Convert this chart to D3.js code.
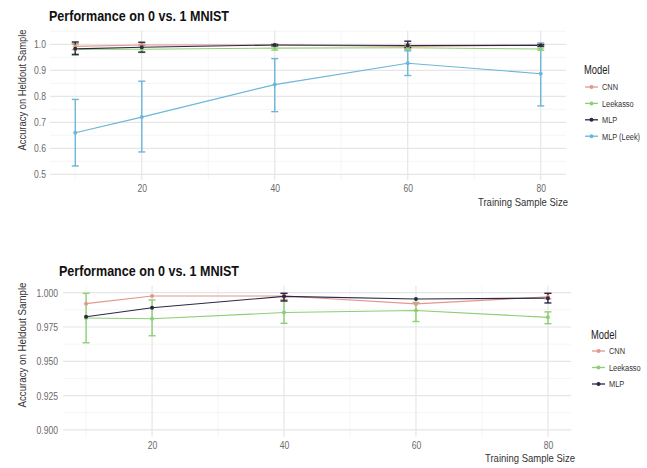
<!DOCTYPE html>
<html>
<head>
<meta charset="utf-8">
<script src="https://cdn.jsdelivr.net/npm/d3@7"></script>
<style>
  html, body { margin: 0; padding: 0; background: #ffffff; }
  svg { display: block; font-family: "Liberation Sans", Arial, sans-serif; }
</style>
</head>
<body>
<svg id="chart" width="647" height="468"></svg>
<script>
// ---------------- data ----------------
const sizes = [10, 20, 40, 60, 80];
const models = ["CNN", "Leekasso", "MLP", "MLP (Leek)"];
const colors = ["#e3968a", "#8ccf74", "#2b2745", "#6cb6d8"];

const cnnMean = [0.9920, 0.9976, 0.9976, 0.9918, 0.9970];
const cnnLow  = [0.9800, 0.9950, 0.9950, 0.9840, 0.9955];
const cnnHigh = [1.0040, 1.0005, 0.9995, 1.0020, 0.9995];

const leekassoMean = [0.9815, 0.9810, 0.9855, 0.9870, 0.9820];
const leekassoLow  = [0.9635, 0.9686, 0.9777, 0.9790, 0.9774];
const leekassoHigh = [0.9995, 0.9947, 0.9937, 0.9929, 0.9860];

const mlpMean = [0.9825, 0.9890, 0.9973, 0.9954, 0.9960];
const mlpLow  = [0.9600, 0.9700, 0.9940, 0.9880, 0.9925];
const mlpHigh = [1.0090, 1.0080, 0.9995, 1.0120, 0.9995];

const mlpLeekMean = [0.660, 0.720, 0.845, 0.927, 0.887];
const mlpLeekLow  = [0.532, 0.586, 0.741, 0.880, 0.763];
const mlpLeekHigh = [0.788, 0.858, 0.945, 0.975, 1.005];

const topYTicks = [0.5, 0.6, 0.7, 0.8, 0.9, 1.0];
const bottomYTicks = [0.900, 0.925, 0.950, 0.975, 1.000];
const xTicks = [20, 40, 60, 80];

const titleText = "Performance on 0 vs. 1 MNIST";
const yTitleText = "Accuracy on Heldout Sample";
const xTitleText = "Training Sample Size";
const legendTitle = "Model";

// ---------------- build series ----------------
const allSeries = [
  {name: models[0], color: colors[0], mean: cnnMean, low: cnnLow, high: cnnHigh},
  {name: models[1], color: colors[1], mean: leekassoMean, low: leekassoLow, high: leekassoHigh},
  {name: models[2], color: colors[2], mean: mlpMean, low: mlpLow, high: mlpHigh},
  {name: models[3], color: colors[3], mean: mlpLeekMean, low: mlpLeekLow, high: mlpLeekHigh}
].map(s => ({...s, pts: sizes.map((x, i) => ({x, y: s.mean[i], lo: s.low[i], hi: s.high[i]}))}));

const svg = d3.select("#chart");
const SQ = 0.78; // horizontal text squeeze seen in the reference

function drawPanel(cfg) {
  const g = svg.append("g");
  const x = d3.scaleLinear().domain(cfg.xDomain).range(cfg.xRange);
  const y = d3.scaleLinear().domain(cfg.yDomain).range(cfg.yRange);
  const [x0, x1] = cfg.xRange;
  const [y1, y0] = cfg.yRange; // y1 bottom, y0 top

  // minor grid
  const yMinor = [];
  const step = cfg.yTicks[1] - cfg.yTicks[0];
  for (let i = 0; i < cfg.yTicks.length + 1; i++) {
    const v = cfg.yTicks[0] - step / 2 + i * step;
    if (v >= cfg.yDomain[0] && v <= cfg.yDomain[1]) yMinor.push(v);
  }
  const xMinor = [10, 30, 50, 70];
  g.selectAll(".ymin").data(yMinor).join("line")
    .attr("x1", x0).attr("x2", x1).attr("y1", d => y(d)).attr("y2", d => y(d))
    .attr("stroke", "#f1f1f1").attr("stroke-width", 0.7);
  g.selectAll(".xmin").data(xMinor).join("line")
    .attr("y1", y0).attr("y2", y1).attr("x1", d => x(d)).attr("x2", d => x(d))
    .attr("stroke", "#f1f1f1").attr("stroke-width", 0.7);
  // major grid
  g.selectAll(".ymaj").data(cfg.yTicks).join("line")
    .attr("x1", x0).attr("x2", x1).attr("y1", d => y(d)).attr("y2", d => y(d))
    .attr("stroke", "#e6e6e6").attr("stroke-width", 1.2);
  g.selectAll(".xmaj").data(xTicks).join("line")
    .attr("y1", y0).attr("y2", y1).attr("x1", d => x(d)).attr("x2", d => x(d))
    .attr("stroke", "#e6e6e6").attr("stroke-width", 1.2);

  // axes (labels only)
  const ya = g.append("g").attr("transform", `translate(${x0},0)`)
    .call(d3.axisLeft(y).tickValues(cfg.yTicks).tickFormat(d3.format(cfg.yFormat)).tickSize(0).tickPadding(cfg.yPad));
  ya.select(".domain").remove();
  ya.selectAll("text").attr("font-size", 11).attr("fill", "#6a6a6a").attr("font-family", "Liberation Sans, Arial, sans-serif").classed("sq", true);
  const xa = g.append("g").attr("transform", `translate(0,${cfg.xAxisY})`)
    .call(d3.axisBottom(x).tickValues(xTicks).tickSize(0).tickPadding(0));
  xa.select(".domain").remove();
  xa.selectAll("text").attr("font-size", 11).attr("fill", "#6a6a6a").attr("font-family", "Liberation Sans, Arial, sans-serif").classed("sq", true);

  const series = allSeries.filter(s => cfg.models.includes(s.name));
  const inRange = d => d.lo >= cfg.clip[0] && d.hi <= cfg.clip[1];
  const line = d3.line().x(d => x(d.x)).y(d => y(d.y));

  series.forEach(s => {
    g.append("path").datum(s.pts).attr("d", line)
      .attr("fill", "none").attr("stroke", s.color).attr("stroke-width", 1.1);
  });
  series.forEach(s => {
    const eb = g.append("g").attr("stroke", s.color).attr("stroke-width", 1.4).attr("fill", "none");
    const pts = s.pts.filter(inRange);
    eb.selectAll(".v").data(pts).join("line")
      .attr("x1", d => x(d.x)).attr("x2", d => x(d.x)).attr("y1", d => y(d.lo)).attr("y2", d => y(d.hi));
    eb.selectAll(".lo").data(pts).join("line")
      .attr("x1", d => x(d.x) - 3.5).attr("x2", d => x(d.x) + 3.5).attr("y1", d => y(d.lo)).attr("y2", d => y(d.lo));
    eb.selectAll(".hi").data(pts).join("line")
      .attr("x1", d => x(d.x) - 3.5).attr("x2", d => x(d.x) + 3.5).attr("y1", d => y(d.hi)).attr("y2", d => y(d.hi));
  });
  series.forEach(s => {
    g.selectAll(null).data(s.pts).join("circle")
      .attr("cx", d => x(d.x)).attr("cy", d => y(d.y)).attr("r", 2).attr("fill", s.color);
  });

  // titles
  g.append("text").attr("x", cfg.titleX).attr("y", cfg.titleY)
    .attr("font-size", 15).attr("font-weight", "bold").attr("fill", "#111")
    .attr("textLength", 180).attr("lengthAdjust", "spacingAndGlyphs").text(titleText);
  g.append("text").attr("transform", `translate(${cfg.yTitleX},${cfg.yTitleMid}) rotate(-90)`)
    .attr("text-anchor", "middle").attr("font-size", 11.5).attr("fill", "#333")
    .attr("textLength", cfg.yTitleLen).attr("lengthAdjust", "spacingAndGlyphs").text(yTitleText);
  g.append("text").attr("x", cfg.xTitleRight).attr("y", cfg.xTitleY)
    .attr("text-anchor", "end").attr("font-size", 11.5).attr("fill", "#333")
    .attr("textLength", 90).attr("lengthAdjust", "spacingAndGlyphs").text(xTitleText);

  // legend
  const lg = g.append("g");
  lg.append("text").attr("x", cfg.legX).attr("y", cfg.legTitleY)
    .attr("font-size", 12).attr("fill", "#222").classed("sq", true).text(legendTitle);
  series.forEach((s, i) => {
    const cy = cfg.legY0 + i * cfg.legStep;
    lg.append("line").attr("x1", cfg.legX + 1).attr("x2", cfg.legX + 14)
      .attr("y1", cy).attr("y2", cy).attr("stroke", s.color).attr("stroke-width", 1.3);
    lg.append("circle").attr("cx", cfg.legX + 7.5).attr("cy", cy).attr("r", 2).attr("fill", s.color);
    lg.append("text").attr("x", cfg.legX + 18).attr("y", cy + 3.4)
      .attr("font-size", 9.5).attr("fill", "#333").classed("sq", true).text(s.name);
  });
}

drawPanel({
  models: models,
  xDomain: [6.2, 83.8], xRange: [50, 566],
  yDomain: [0.478, 1.052], yRange: [180, 30.8],
  yTicks: topYTicks, yFormat: ".1f", yPad: 4, xAxisY: 184,
  clip: [-Infinity, Infinity],
  titleX: 49, titleY: 21,
  yTitleX: 25.5, yTitleMid: 90, yTitleLen: 121,
  xTitleRight: 568, xTitleY: 206,
  legX: 584, legTitleY: 74, legY0: 87, legStep: 16.4
});

drawPanel({
  models: models.slice(0, 3),
  xDomain: [6.5, 83.5], xRange: [63, 571],
  yDomain: [0.895, 1.005], yRange: [436.8, 285.8],
  yTicks: bottomYTicks, yFormat: ".3f", yPad: 5, xAxisY: 441,
  clip: [0.9, 1.0],
  titleX: 59, titleY: 276,
  yTitleX: 25.5, yTitleMid: 345, yTitleLen: 125,
  xTitleRight: 575, xTitleY: 462,
  legX: 591, legTitleY: 339, legY0: 351, legStep: 16.5
});

// squeeze short texts horizontally like the reference (via transform, keeps anchors)
svg.selectAll("text.sq").each(function() {
  const t = d3.select(this);
  const tx = +t.attr("x") || 0;
  const ty = +t.attr("y") || 0;
  t.attr("x", 0).attr("y", 0).attr("transform", `translate(${tx},${ty}) scale(${SQ},1)`);
});
</script>
</body>
</html>
